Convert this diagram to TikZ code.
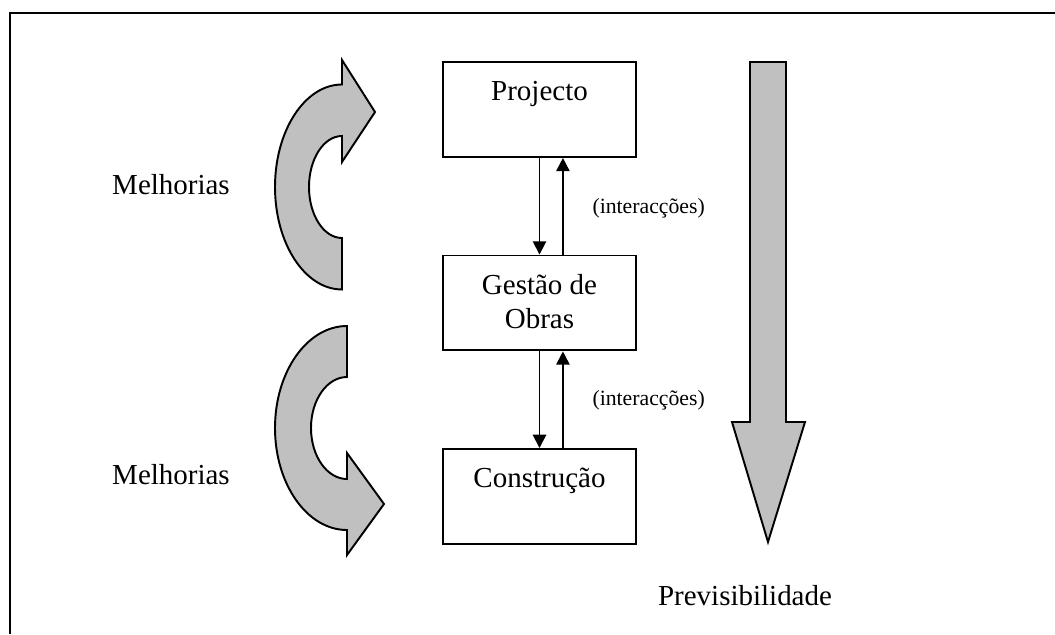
\documentclass[tikz,border=0pt]{standalone}
\usepackage{fontspec}
\setmainfont{Liberation Serif}
\usetikzlibrary{positioning, arrows.meta}
\definecolor{cinza}{HTML}{C0C0C0}

\begin{document}
\begin{tikzpicture}[x=0.414pt, y=0.414pt,
		caixa/.style={draw, line width=0.8pt, minimum width=79.9pt, align=center, inner sep=0pt,
			text height=16.1pt, text depth=23.2pt, font=\fontsize{12}{14}\selectfont},
		seta/.style={line width=0.75pt, -{Triangle[width=5.5pt, length=5.5pt]}},
		setagrande/.style={draw, line width=0.8pt, fill=cinza, line join=miter},
		rotulo/.style={font=\fontsize{12}{14.5}\selectfont, anchor=base},
		pequeno/.style={font=\fontsize{9}{11}\selectfont, anchor=base west}]
		\useasboundingbox (0, 0) rectangle (1055, 634);
		% 外框 (只能看到左边和上边)
		\draw[line width=0.8pt] (10, 0) -- (10, 621) -- (1055, 621);
		% 三个方框
		\node[caixa] (proj) at (539.5, 524.5) {Projecto};
		\node[caixa, below=40pt of proj, text height=30.1pt, text depth=9.2pt] (gest) {Gestão de\\Obras};
		\node[caixa, below=40pt of gest] (cons) {Construção};
		% 方框之间的往返箭头和说明
		\foreach \a/\b/\y in {proj/gest/421, gest/cons/229} {
				\draw[seta] (\a.south) -- (\b.north);
				\draw[seta] ([xshift=9.7pt]\b.north) -- ([xshift=9.7pt]\a.south);
				\node[pequeno] (int-\a) at (584, \y) {(interacções)};
			}
		% 左边两个弯箭头
		\draw[setagrande] (342, 344.5) -- (342, 396)
			arc[start angle=270, end angle=90, x radius=33, y radius=51]
			-- (342, 472) -- (375, 522) -- (342, 574) -- (342, 549.5)
			arc[start angle=90, end angle=270, x radius=67, y radius=102.5] -- cycle;
		\draw[setagrande] (347, 308)
			arc[start angle=90, end angle=270, x radius=72, y radius=102]
			-- (347, 79) -- (384, 130) -- (347, 181) -- (347, 155)
			arc[start angle=270, end angle=90, x radius=36, y radius=51] -- cycle;
		\node[rotulo] (melh1) at (171, 440) {Melhorias};
		\node[rotulo] (melh2) at (171, 150) {Melhorias};
		% 右边向下的大箭头
		\draw[setagrande] (750, 572) -- (786, 572) -- (786, 212) -- (805, 212)
			-- (768, 92) -- (732, 212) -- (750, 212) -- cycle;
		\node[rotulo] (prev) at (745, 29) {Previsibilidade};
	\end{tikzpicture}
\end{document}
